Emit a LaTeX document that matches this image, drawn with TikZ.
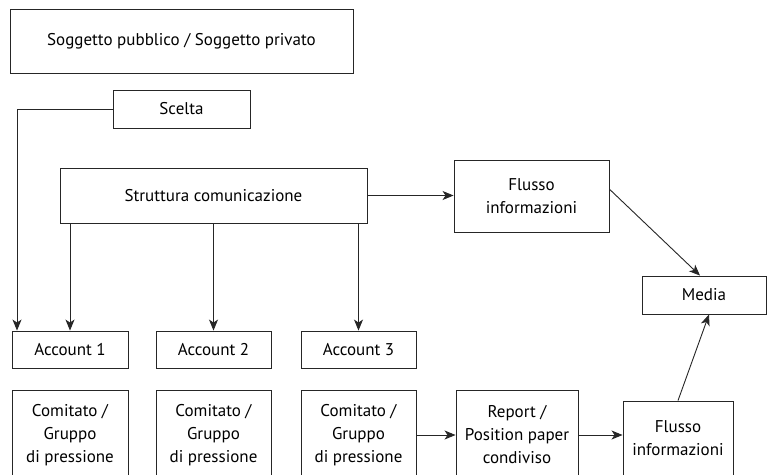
\documentclass[tikz,border=0pt]{standalone}
\usepackage{fontspec}
\setmainfont{PT Sans}
\usetikzlibrary{arrows.meta,calc}
\begin{document}
\begin{tikzpicture}[x=1pt,y=-1pt,
  box/.style={draw=black!85, line width=0.9pt, rectangle, inner sep=0pt, align=center,
    font=\fontsize{17}{23}\selectfont},
  arr/.style={draw=black!85, line width=0.9pt, -{Stealth[length=11pt,width=9pt,inset=3pt]}},
  con/.style={draw=black!85, line width=0.9pt}]
\path[use as bounding box, clip] (0,0) rectangle (768,474);
\fill[white] (0,0) rectangle (768,474);
% nodes
\node[box, minimum width=343, minimum height=64] (sog) at (181.5,41) {Soggetto pubblico / Soggetto privato};
\node[box, minimum width=137, minimum height=38] (scelta) at (181.5,109) {Scelta};
\node[box, minimum width=307, minimum height=55] (strut) at (213.5,195.5) {Struttura comunicazione};
\node[box, minimum width=155, minimum height=72] (fl1) at (531.5,196) {Flusso\\informazioni};
\node[box, minimum width=124, minimum height=38] (media) at (704,295) {Media};
\node[box, minimum width=116, minimum height=37] (acc1) at (70,349.5) {Account 1};
\node[box, minimum width=115, minimum height=37] (acc2) at (213.5,349.5) {Account 2};
\node[box, minimum width=115, minimum height=37] (acc3) at (358.5,349.5) {Account 3};
\node[box, minimum width=116, minimum height=90] (com1) at (70,435) {Comitato /\\Gruppo\\di pressione};
\node[box, minimum width=115, minimum height=90] (com2) at (213.5,435) {Comitato /\\Gruppo\\di pressione};
\node[box, minimum width=115, minimum height=90] (com3) at (358.5,435) {Comitato /\\Gruppo\\di pressione};
\node[box, minimum width=122, minimum height=90] (rep) at (517,435) {Report /\\Position paper\\condiviso};
\node[box, minimum width=110, minimum height=74] (fl2) at (678,438) {Flusso\\informazioni};
% connectors
\coordinate (corner) at (17,109);
\draw[con] (scelta.west) -- (corner);
\draw[arr] (corner) -- (corner |- acc1.north);
\draw[arr] (acc1.north |- strut.south) -- (acc1.north);
\draw[arr] (acc2.north |- strut.south) -- (acc2.north);
\draw[arr] (acc3.north |- strut.south) -- (acc3.north);
\draw[arr] (strut.east) -- (strut.east -| fl1.west);
\draw[arr] (fl1.5) -- ($(media.north)+(-4,0)$);
\draw[arr] (fl2.north) -- ($(media.south)+(5,0)$);
\draw[arr] (com3.east) -- (rep.west);
\draw[arr] (rep.east) -- (rep.east -| fl2.west);
\end{tikzpicture}
\end{document}
